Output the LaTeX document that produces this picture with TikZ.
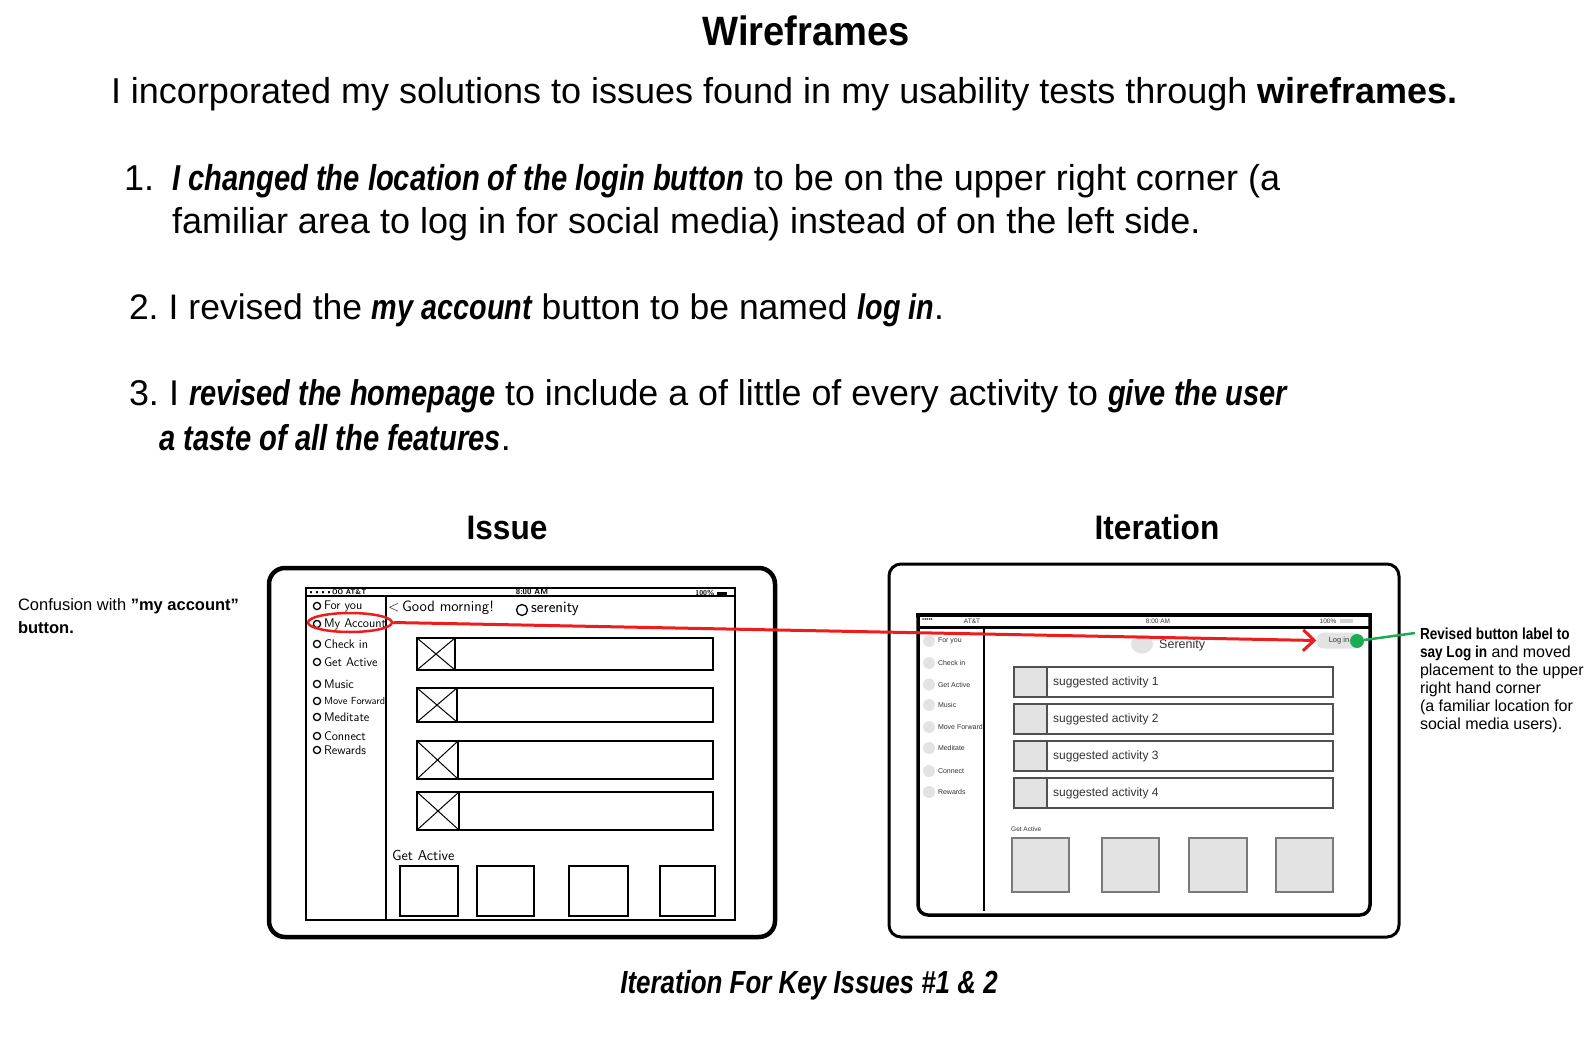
\documentclass[tikz,border=0pt]{standalone}
\usepackage{fontspec}
\setmainfont{Liberation Sans}
\newfontfamily\bicfam{Liberation Sans}[FakeStretch=0.81]
\newfontfamily\bcondfam{Liberation Sans}[FakeStretch=0.93]
\newfontfamily\bnarrowfam{Liberation Sans}[FakeStretch=0.85]
\usetikzlibrary{arrows.meta,shapes.geometric}
\definecolor{wfgray}{HTML}{E3E3E3}
\definecolor{wfborder}{HTML}{505050}
\definecolor{boxborder}{HTML}{7A7A7A}
\definecolor{annred}{HTML}{EE1C1C}
\definecolor{anngreen}{HTML}{1DAA55}
\definecolor{wftext}{HTML}{333333}
\newcommand\BI[1]{{\bicfam\bfseries\itshape #1}}
\newcommand\BN[1]{{\bnarrowfam\bfseries #1}}
\newcommand\fsz[1]{\fontsize{#1}{#1}\selectfont}
\tikzset{
  txt/.style={inner sep=0pt, outer sep=0pt, anchor=base west},
  txtc/.style={inner sep=0pt, outer sep=0pt, anchor=base},
  body/.style={txt, font=\fsz{36}},
  sketchline/.style={draw=black, line width=1.4pt},
  sketchtxt/.style={inner sep=0pt, outer sep=0pt, anchor=west, font=\sffamily\fsz{12.5}},
  wfitem/.style={inner sep=0pt, outer sep=0pt, anchor=west, font=\fsz{7}, text=wftext},
  wfrow/.style={draw=wfborder, line width=1.5pt, fill=white},
  wfsq/.style={draw=wfborder, line width=1.5pt, fill=wfgray},
  wfbox/.style={draw=boxborder, line width=1.5pt, fill=wfgray},
}
\begin{document}
\begin{tikzpicture}[x=1pt,y=-1pt]
\fill[white] (0,0) rectangle (1590,1048);
\useasboundingbox (0,0) rectangle (1590,1048);

% ---------- texts ----------
\node[txtc] (title) at (806,46) {\bcondfam\bfseries\fsz{41}Wireframes};
\node[body] (intro) at (111,104) {I incorporated my solutions to issues found in my usability tests through \textbf{wireframes.}};

\node[body] (n1) at (124,191) {1.};
\node[body] (i1a) at (172,191) {\BI{I changed the location of the login button} to be on the upper right corner (a};
\node[body] (i1b) at (172,234) {familiar area to log in for social media) instead of on the left side.};
\node[body, font=\fsz{35.5}] (i2) at (129,320) {2.\hspace{-3pt} I revised the \BI{my account} button to be named \BI{log in}.};
\node[body, font=\fsz{35.8}] (i3a) at (129,406) {3.\hspace{-3pt} I \BI{revised the homepage} to include a of little of every activity to \BI{give the user}};
\node[body] (i3b) at (159,450) {\BI{a taste of all the features}.};

\node[txtc] (issuehead) at (507,539.5) {\bcondfam\bfseries\fsz{34}Issue};
\node[txtc] (iterhead) at (1157,539.5) {\bcondfam\bfseries\fsz{34}Iteration};
\node[txtc] (caption) at (809,993) {\fsz{32}\BI{Iteration For Key Issues \#1 \& 2}};

\node[txt, font=\fsz{16.5}] (conf1) at (18,610) {Confusion with \textbf{”my account”}};
\node[txt, font=\fsz{16.5}] (conf2) at (18,633) {\textbf{button.}};

\node[txt, font=\fsz{16}] (rev1) at (1420,639) {\BN{Revised button label to}};
\node[txt, font=\fsz{16}] (rev2) at (1420,657) {\BN{say Log in} and moved};
\node[txt, font=\fsz{16}] (rev3) at (1420,675) {placement to the upper};
\node[txt, font=\fsz{16}] (rev4) at (1420,693) {right hand corner};
\node[txt, font=\fsz{16}] (rev5) at (1420,711) {(a familiar location for};
\node[txt, font=\fsz{16}] (rev6) at (1420,729) {social media users).};

% ---------- sketch (Issue) ----------
\draw[line width=4.5pt, rounded corners=16pt] (269,568) rectangle (775,937);
\draw[sketchline] (306,588) rectangle (735,920);
\draw[sketchline] (306,596) -- (735,596);
\draw[sketchline] (386,596) -- (386,920);
\node[inner sep=0pt, anchor=west, font=\sffamily\bfseries\fsz{7}] (sst1) at (308,592) {\textbullet\textbullet\textbullet\textbullet OO AT\&T};
\node[inner sep=0pt, font=\sffamily\bfseries\fsz{8}] (sst2) at (532,592) {8:00 AM};
\node[inner sep=0pt, anchor=east, font=\sffamily\bfseries\fsz{7}] (sst3) at (727,593) {100\%\ \rule{10pt}{3pt}};

\foreach \y/\t/\n in {606/For you/a, 624/My Account/b, 644/Check in/c, 662/Get Active/d, 684/Music/e, 717/Meditate/g, 736/Connect/h, 750/Rewards/i}{
  \draw[line width=1.3pt] (317,\y) circle (3.6);
  \node[sketchtxt] (sk\n) at (324,\y) {\t};
}
\draw[line width=1.3pt] (317,701) circle (3.6);
\node[sketchtxt, font=\sffamily\fsz{10.3}] (skf) at (324,701) {Move Forward};

\node[inner sep=0pt, anchor=west, font=\sffamily\fsz{15}] (gm) at (388,608) {<\,Good morning!};
\draw[line width=1.3pt] (522,610) circle (5.5);
\node[inner sep=0pt, anchor=west, font=\sffamily\fsz{16}] (ser) at (531,609) {serenity};

\foreach \ya/\yb/\xe in {638/670/455, 688/722/457, 741/779/458, 792/830/459}{
  \draw[sketchline] (417,\ya) rectangle (\xe,\yb);
  \draw[line width=1pt] (417,\ya) -- (\xe,\yb) (417,\yb) -- (\xe,\ya);
  \draw[sketchline] (\xe,\ya) rectangle (713,\yb);
}
\node[inner sep=0pt, anchor=west, font=\sffamily\fsz{14.5}] (skga) at (392,855) {Get Active};
\foreach \xa/\xb in {400/458, 477/534, 569/628, 660/715}{
  \draw[sketchline] (\xa,866) rectangle (\xb,916);
}
\node[draw=annred, line width=2.5pt, ellipse, minimum width=84, minimum height=19, inner sep=0pt] (myacc) at (350,622.5) {};

% ---------- wireframe (Iteration) ----------
\draw[line width=3pt, rounded corners=12pt] (889,564) rectangle (1399,937);
\draw[line width=3.5pt, rounded corners=10pt] (918,615) -- (918,915) -- (1370,915) -- (1370,615);
\draw[line width=3.5pt] (916.25,615) -- (1371.75,615);
\draw[line width=3pt] (918,627) -- (1370,627);
\node[inner sep=0pt, anchor=west, font=\fsz{6}] (wst1) at (922,620) {\textbullet\textbullet\textbullet\textbullet\textbullet};
\node[inner sep=0pt, font=\fsz{6.5}, text=wftext] (wst2) at (972,621.5) {AT\&T};
\node[inner sep=0pt, font=\fsz{6.5}, text=wftext] (wst3) at (1158,621.5) {8:00 AM};
\node[inner sep=0pt, font=\fsz{6.5}, text=wftext] (wst4) at (1328,621.5) {100\%};
\fill[gray!35] (1340,619) rectangle (1353,623);
\draw[line width=1.2pt] (984,627) -- (984,911);

\foreach \y/\t/\n in {641/For you/a, 663/Check in/b, 684.5/Get Active/c, 705/Music/d, 727/Move Forward/e, 748/Meditate/f, 771/Connect/g, 792/Rewards/h}{
  \fill[wfgray] (929,\y) circle (6);
  \node[wfitem] (wf\n) at (938,\y) {\t};
}

\fill[wfgray] (1142,644) ellipse (11 and 9.5);
\node[inner sep=0pt, anchor=west, font=\fsz{12.5}, text=wftext] (serenity) at (1159,645) {Serenity};

\foreach \ya/\yb/\k in {667/697/1, 704/734/2, 741/771/3, 778/808/4}{
  \draw[wfrow] (1014,\ya) rectangle (1333,\yb);
  \draw[wfsq] (1014,\ya) rectangle (1047,\yb);
  \node[inner sep=0pt, anchor=west, font=\fsz{12}, text=wftext] (act\k) at (1053,{(\ya+\yb)/2}) {suggested activity \k};
}
\node[inner sep=0pt, anchor=west, font=\fsz{6.5}, text=wftext] (wfga) at (1011,829) {Get Active};
\foreach \xa/\xb in {1012/1069, 1102/1159, 1189/1247, 1276/1333}{
  \draw[wfbox] (\xa,838) rectangle (\xb,892);
}

\node[fill=wfgray, rounded corners=7.5pt, minimum width=45, minimum height=16, inner sep=0pt, font=\fsz{7.5}, text=wftext] (login) at (1339,640.5) {Log in\hspace{13pt}};
\node[circle, fill=anngreen, minimum size=14, inner sep=0pt] (gdot) at (1357,641) {};

% ---------- connectors ----------
\draw[annred, line width=3pt, -{Straight Barb[length=11pt,width=21pt,line width=3pt]}] (myacc.east) -- (login.west);
\coordinate (gend) at (1415,633);
\draw[anngreen, line width=2.5pt] (gdot) -- (gend);
\end{tikzpicture}
\end{document}
